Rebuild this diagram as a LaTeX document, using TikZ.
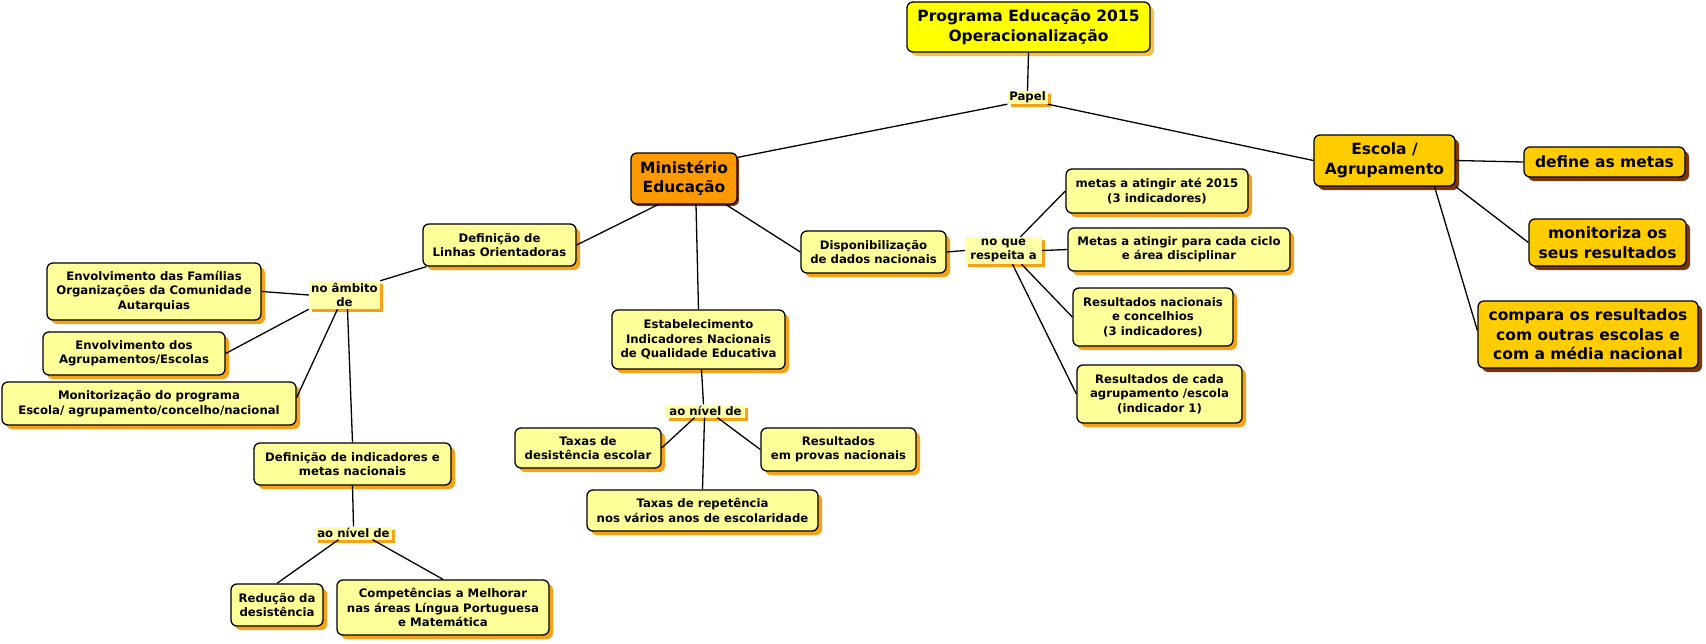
\documentclass[tikz,border=0pt]{standalone}
\usepackage{fontspec}
\setmainfont{DejaVu Sans}
\usetikzlibrary{shadows}
\definecolor{lightY}{HTML}{FFFF99}
\definecolor{labY}{HTML}{FFFFAA}
\definecolor{shOr}{HTML}{F7A11A}
\definecolor{goldF}{HTML}{FFCC00}
\definecolor{brownSh}{HTML}{7A3510}
\definecolor{orangeF}{HTML}{FF9900}
\definecolor{titleY}{HTML}{FFFF00}
\definecolor{titleSh}{HTML}{F2C24A}
\tikzset{
 base/.style={draw=black, line width=1.3pt, rounded corners=6pt, align=center, inner sep=0pt,
   font=\bfseries\fontsize{11.7}{14.5}\selectfont},
 lbox/.style={base, fill=lightY, general shadow={fill=shOr, shadow xshift=4pt, shadow yshift=-4pt}},
 gbox/.style={base, fill=goldF, font=\bfseries\fontsize{15.5}{19.5}\selectfont,
   general shadow={fill=brownSh, shadow xshift=4pt, shadow yshift=-4pt}},
 obox/.style={base, fill=orangeF, font=\bfseries\fontsize{15.5}{19.5}\selectfont,
   general shadow={fill=brownSh, shadow xshift=2pt, shadow yshift=-2pt}},
 tbox/.style={base, fill=titleY, font=\bfseries\fontsize{15.5}{19.5}\selectfont,
   general shadow={fill=titleSh, shadow xshift=4pt, shadow yshift=-4pt}},
 lab/.style={fill=labY, inner sep=0pt, align=center, font=\bfseries\fontsize{11.7}{14.5}\selectfont,
   general shadow={fill=shOr, shadow xshift=3pt, shadow yshift=-3pt}},
 conn/.style={line width=1.3pt, black},
}
\begin{document}
\begin{tikzpicture}[x=1pt,y=-1pt]
\useasboundingbox[fill=white] (0,0) rectangle (1706,643);
% top
\node[tbox, minimum width=243pt, minimum height=50pt] (title) at (1028.5,27) {Programa Educação 2015\\Operacionalização};
\node[lab, minimum width=40pt, minimum height=13pt] (papel) at (1027.5,97.5) {Papel};
\node[obox, minimum width=106pt, minimum height=51pt] (min) at (684,178.5) {Ministério\\Educação};
\node[gbox, minimum width=141pt, minimum height=51pt] (escola) at (1384.5,160.5) {Escola /\\Agrupamento};
% right
\node[gbox, minimum width=161pt, minimum height=30pt] (define) at (1604.5,162) {define as metas};
\node[gbox, minimum width=157pt, minimum height=47pt] (monit) at (1607.5,242.5) {monitoriza os\\seus resultados};
\node[gbox, minimum width=220pt, minimum height=67pt] (compara) at (1588,334.5) {compara os resultados\\com outras escolas e\\com a média nacional};
% left branch
\node[lbox, minimum width=153pt, minimum height=42pt] (linhas) at (499.5,245) {Definição de\\Linhas Orientadoras};
\node[lab, minimum width=71pt, minimum height=28pt] (ambito) at (344.5,295) {no âmbito\\de};
\node[lbox, minimum width=214pt, minimum height=57pt] (fam) at (154,291.5) {Envolvimento das Famílias\\Organizações da Comunidade\\Autarquias};
\node[lbox, minimum width=182pt, minimum height=43pt] (agrup) at (134,353.5) {Envolvimento dos\\Agrupamentos/Escolas};
\node[lbox, minimum width=294pt, minimum height=43pt] (monprog) at (149,403.5) {Monitorização do programa\\Escola/ agrupamento/concelho/nacional};
\node[lbox, minimum width=197pt, minimum height=42pt] (defind) at (352.5,464) {Definição de indicadores e\\metas nacionais};
\node[lab, minimum width=77pt, minimum height=13pt] (niv1) at (353.5,533) {ao nível de};
\node[lbox, minimum width=92pt, minimum height=42pt] (red) at (277,605) {Redução da\\desistência};
\node[lbox, minimum width=212pt, minimum height=55pt] (comp) at (443,607.5) {Competências a Melhorar\\nas áreas Língua Portuguesa\\e Matemática};
% middle branch
\node[lbox, minimum width=173pt, minimum height=59pt] (estab) at (698.5,339.5) {Estabelecimento\\Indicadores Nacionais\\de Qualidade Educativa};
\node[lab, minimum width=79pt, minimum height=13pt] (niv2) at (705.5,411) {ao nível de};
\node[lbox, minimum width=146pt, minimum height=40pt] (taxdes) at (588,448) {Taxas de\\desistência escolar};
\node[lbox, minimum width=155pt, minimum height=43pt] (resprov) at (838.5,449.5) {Resultados\\em provas nacionais};
\node[lbox, minimum width=231pt, minimum height=41pt] (taxrep) at (702.5,510.5) {Taxas de repetência\\nos vários anos de escolaridade};
% right branch of ministerio
\node[lbox, minimum width=145pt, minimum height=42pt] (disp) at (873.5,252) {Disponibilização\\de dados nacionais};
\node[lab, minimum width=77pt, minimum height=27pt] (resp) at (1003.5,250.5) {no que\\respeita a};
\node[lbox, minimum width=182pt, minimum height=44pt] (m2015) at (1157,191) {metas a atingir até 2015\\(3 indicadores)};
\node[lbox, minimum width=222pt, minimum height=43pt] (mciclo) at (1179,249.5) {Metas a atingir para cada ciclo\\e área disciplinar};
\node[lbox, minimum width=160pt, minimum height=58pt] (resnac) at (1153,317) {Resultados nacionais\\e concelhios\\(3 indicadores)};
\node[lbox, minimum width=165pt, minimum height=58pt] (rescada) at (1159.5,394) {Resultados de cada\\agrupamento /escola\\(indicador 1)};
% connectors
\draw[conn] (title.south) -- (papel.north);
\draw[conn] (papel.south west) -- ([yshift=-5pt]min.north east);
\draw[conn] (papel.south east) -- (escola.west);
\draw[conn] ([xshift=-26pt]min.south) -- (linhas.east);
\draw[conn] ([xshift=12pt]min.south) -- (estab.north);
\draw[conn] ([xshift=42pt]min.south) -- (disp.west);
\draw[conn] ([xshift=4pt]linhas.south west) -- (ambito.north east);
\draw[conn] (ambito.west) -- (fam.east);
\draw[conn] (ambito.south west) -- (agrup.east);
\draw[conn] ([xshift=-7pt]ambito.south) -- ([yshift=6pt]monprog.east);
\draw[conn] ([xshift=3pt]ambito.south) -- (defind.north);
\draw[conn] (defind.south) -- (niv1.north);
\draw[conn] ([xshift=-15pt]niv1.south) -- (red.north);
\draw[conn] ([xshift=19pt]niv1.south) -- (comp.north);
\draw[conn] ([xshift=3pt]estab.south) -- ([xshift=-2pt]niv2.north);
\draw[conn] ([xshift=-11pt]niv2.south) -- (taxdes.east);
\draw[conn] ([xshift=-1pt]niv2.south) -- (taxrep.north);
\draw[conn] ([xshift=12pt]niv2.south) -- (resprov.west);
\draw[conn] (disp.east) -- (resp.west);
\draw[conn] ([xshift=17pt]resp.north) -- (m2015.west);
\draw[conn] (resp.east) -- (mciclo.west);
\draw[conn] ([xshift=18pt]resp.south) -- (resnac.west);
\draw[conn] ([xshift=9pt]resp.south) -- (rescada.west);
\draw[conn] (escola.east) -- (define.west);
\draw[conn] (escola.south east) -- (monit.west);
\draw[conn] ([xshift=50pt]escola.south) -- ([yshift=4pt]compara.west);
\end{tikzpicture}
\end{document}
